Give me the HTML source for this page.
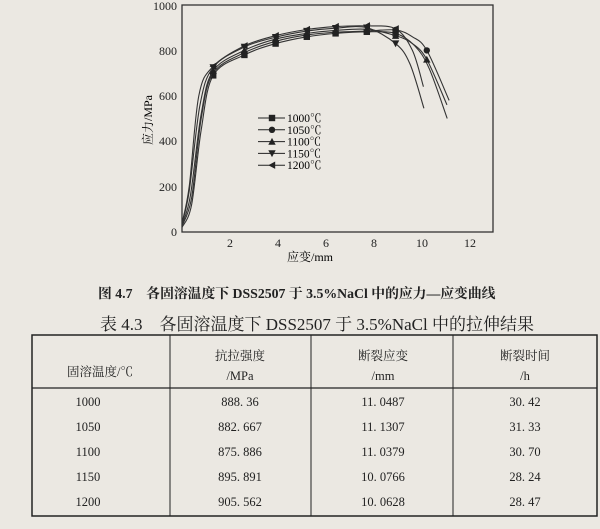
<!DOCTYPE html>
<html><head><meta charset="utf-8">
<style>
html,body{margin:0;padding:0;}
body{width:600px;height:529px;background:#ebe8e2;position:relative;overflow:hidden;font-family:"Liberation Serif","Noto Serif CJK SC",serif;color:#222;}
.t{position:absolute;white-space:nowrap;}
.c{position:absolute;text-align:center;font-size:12.5px;transform:translateX(-50%);white-space:nowrap;}
</style></head><body>
<svg id="ch" width="600" height="290" style="position:absolute;left:0;top:0" font-family="Liberation Serif, Noto Serif CJK SC, serif">
<rect x="182" y="5" width="311" height="227" fill="none" stroke="#333" stroke-width="1.3"/>
<g font-size="12" fill="#222" text-anchor="end">
<text x="177" y="236">0</text><text x="177" y="191">200</text><text x="177" y="145">400</text>
<text x="177" y="100">600</text><text x="177" y="55">800</text><text x="177" y="10">1000</text>
</g>
<g font-size="12" fill="#222" text-anchor="middle">
<text x="230" y="247">2</text><text x="278" y="247">4</text><text x="326" y="247">6</text>
<text x="374" y="247">8</text><text x="422" y="247">10</text><text x="470" y="247">12</text>
</g>
<text x="310" y="261" font-size="12" text-anchor="middle">应变/mm</text>
<text transform="translate(152,120) rotate(-90)" font-size="12" text-anchor="middle">应力/MPa</text>
<g id="curves"></g>
<g id="leg" font-size="11.5"></g>
</svg>
<div class="t" style="left:98px;top:282px;font-size:13.8px;font-weight:bold;">图 4.7　各固溶温度下 DSS2507 于 3.5%NaCl 中的应力—应变曲线</div>
<div class="t" style="left:100px;top:310px;font-size:17px;">表 4.3　各固溶温度下 DSS2507 于 3.5%NaCl 中的拉伸结果</div>
<svg width="600" height="529" style="position:absolute;left:0;top:0">
<rect x="32" y="335" width="565" height="181" fill="none" stroke="#222" stroke-width="1.5"/>
<line x1="32" y1="388" x2="597" y2="388" stroke="#222" stroke-width="1.2"/>
<line x1="170" y1="335" x2="170" y2="516" stroke="#222"/>
<line x1="311" y1="335" x2="311" y2="516" stroke="#222"/>
<line x1="453" y1="335" x2="453" y2="516" stroke="#222"/>
</svg>
<div class="c" style="left:100px;top:362px;">固溶温度/℃</div>
<div class="c" style="left:240px;top:346px;">抗拉强度</div><div class="c" style="left:240px;top:369px;">/MPa</div>
<div class="c" style="left:383px;top:346px;">断裂应变</div><div class="c" style="left:383px;top:369px;">/mm</div>
<div class="c" style="left:525px;top:346px;">断裂时间</div><div class="c" style="left:525px;top:369px;">/h</div>
<div id="rows"></div>
<script>
var X=u=>182+24*u, Y=v=>232-0.227*v;
var S=[
 {m:'sq',p:[[0,20],[0.4,120],[0.8,450],[1.3,690],[2.6,780],[3.9,830],[5.2,860],[6.4,875],[7.7,882],[8.9,875],[9.7,820],[10.3,720],[11.05,500]]},
 {m:'ci',p:[[0,25],[0.4,150],[0.8,500],[1.3,700],[2.6,790],[3.9,840],[5.2,868],[6.4,880],[7.7,885],[8.9,890],[9.6,860],[10.2,800],[11.13,580]]},
 {m:'tu',p:[[0,30],[0.35,160],[0.8,520],[1.3,710],[2.6,800],[3.9,850],[5.2,875],[6.4,888],[7.7,893],[8.9,865],[9.6,830],[10.2,760],[11.04,560]]},
 {m:'td',p:[[0,35],[0.3,180],[0.75,560],[1.3,725],[2.6,815],[3.9,858],[5.2,885],[6.4,898],[7.7,900],[8.9,830],[9.5,740],[10.08,545]]},
 {m:'tl',p:[[0,40],[0.3,200],[0.7,600],[1.3,730],[2.6,820],[3.9,865],[5.2,892],[6.4,905],[7.7,908],[8.9,895],[9.6,800],[10.06,640]]}
];
function cr(pts){var q=pts.map(a=>[X(a[0]),Y(a[1])]),d='M'+q[0];for(var i=0;i<q.length-1;i++){var p0=q[i-1]||q[i],p1=q[i],p2=q[i+1],p3=q[i+2]||p2;
d+=' C'+(p1[0]+(p2[0]-p0[0])/6)+','+(p1[1]+(p2[1]-p0[1])/6)+' '+(p2[0]-(p3[0]-p1[0])/6)+','+(p2[1]-(p3[1]-p1[1])/6)+' '+p2;}return d;}
function mk(t,x,y){var s=3.2;if(t=='sq')return '<rect x="'+(x-s)+'" y="'+(y-s)+'" width="'+2*s+'" height="'+2*s+'" fill="#222"/>';
if(t=='ci')return '<circle cx="'+x+'" cy="'+y+'" r="'+s+'" fill="#222"/>';
if(t=='tu')return '<polygon points="'+x+','+(y-s-0.5)+' '+(x-s-0.5)+','+(y+s)+' '+(x+s+0.5)+','+(y+s)+'" fill="#222"/>';
if(t=='td')return '<polygon points="'+x+','+(y+s+0.5)+' '+(x-s-0.5)+','+(y-s)+' '+(x+s+0.5)+','+(y-s)+'" fill="#222"/>';
return '<polygon points="'+(x-s-0.5)+','+y+' '+(x+s)+','+(y-s-0.5)+' '+(x+s)+','+(y+s+0.5)+'" fill="#222"/>';}
var h='';S.forEach(s=>{h+='<path d="'+cr(s.p)+'" fill="none" stroke="#333" stroke-width="1.1"/>';
s.p.forEach(a=>{if([1.3,2.6,3.9,5.2,6.4,7.7,8.9,10.2].indexOf(a[0])>=0)h+=mk(s.m,X(a[0]),Y(a[1]));});});
document.getElementById('curves').innerHTML=h;
var L=['1000℃','1050℃','1100℃','1150℃','1200℃'],g='';
L.forEach((t,i)=>{var y=118+i*11.8;g+='<line x1="258" x2="285" y1="'+y+'" y2="'+y+'" stroke="#222"/>'+mk(S[i].m,272,y)+'<text x="287" y="'+(y+4)+'">'+t+'</text>';});
document.getElementById('leg').innerHTML=g;
var R=[['1000','888. 36','11. 0487','30. 42'],['1050','882. 667','11. 1307','31. 33'],['1100','875. 886','11. 0379','30. 70'],['1150','895. 891','10. 0766','28. 24'],['1200','905. 562','10. 0628','28. 47']];
var xs=[88,240,383,525],r='';
R.forEach((row,i)=>{var t=395+i*25;row.forEach((c,j)=>{r+='<div class="c" style="left:'+xs[j]+'px;top:'+t+'px">'+c+'</div>';});});
document.getElementById('rows').innerHTML=r;
</script>
</body></html>
